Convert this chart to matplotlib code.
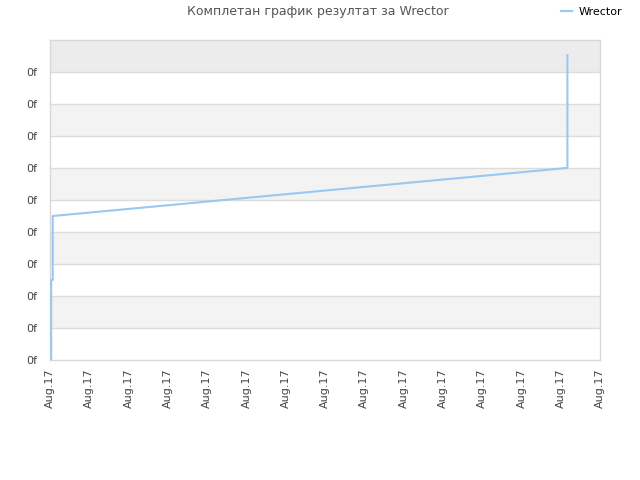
import matplotlib
matplotlib.use("Agg")
import matplotlib.pyplot as plt
from matplotlib.lines import Line2D

title = "Комплетан график резултат за Wrector"
series_name = "Wrector"
x_ticks = list(range(15))
x_labels = ["Aug.17"] * 15
y_ticks = list(range(10))
y_labels = ["0f"] * 10
x_vals = [0.03, 0.03, 0.07, 0.07, 13.15, 13.17, 13.17]
y_vals = [0.0, 2.5, 2.5, 4.5, 6.0, 6.0, 9.53]

fig = plt.figure(figsize=(6.4, 4.8), dpi=100)
ax = fig.add_axes([50/640, 120/480, 550/640, 320/480])
ax.set_xlim(0, 14)
ax.set_ylim(0, 10)

# alternating bands
for i in range(10):
    if i == 9:
        c = "#ececec"
    elif i % 2 == 1:
        c = "#f3f3f3"
    else:
        c = "#ffffff"
    ax.axhspan(i, i + 1, color=c, zorder=0, lw=0)
for i in range(1, 10):
    ax.axhline(i, color="#dcdcdc", lw=1, zorder=1)

ax.plot(x_vals, y_vals, color="#99c8f2", lw=1.5, zorder=3)

ax.set_xticks(x_ticks)
ax.set_xticklabels(x_labels, rotation=90, fontsize=8, color="#444444")
ax.set_yticks(y_ticks)
ax.set_yticklabels(y_labels, fontsize=8, color="#444444")
ax.tick_params(axis="y", length=0, pad=9)
ax.tick_params(axis="x", length=0, pad=6)
for s in ax.spines.values():
    s.set_color("#d8d8d8")
    s.set_linewidth(1)

fig.text(318/640, 1 - 12/480, title, ha="center", va="center", fontsize=9, color="#555555")
fig.legend(handles=[Line2D([0], [0], color="#99c8f2", lw=1.6)], labels=[series_name],
           loc="center", bbox_to_anchor=(592/640, 1 - 12/480), frameon=False,
           fontsize=8, handlelength=1.0, handletextpad=0.6)

fig.savefig("out.png", dpi=100)
